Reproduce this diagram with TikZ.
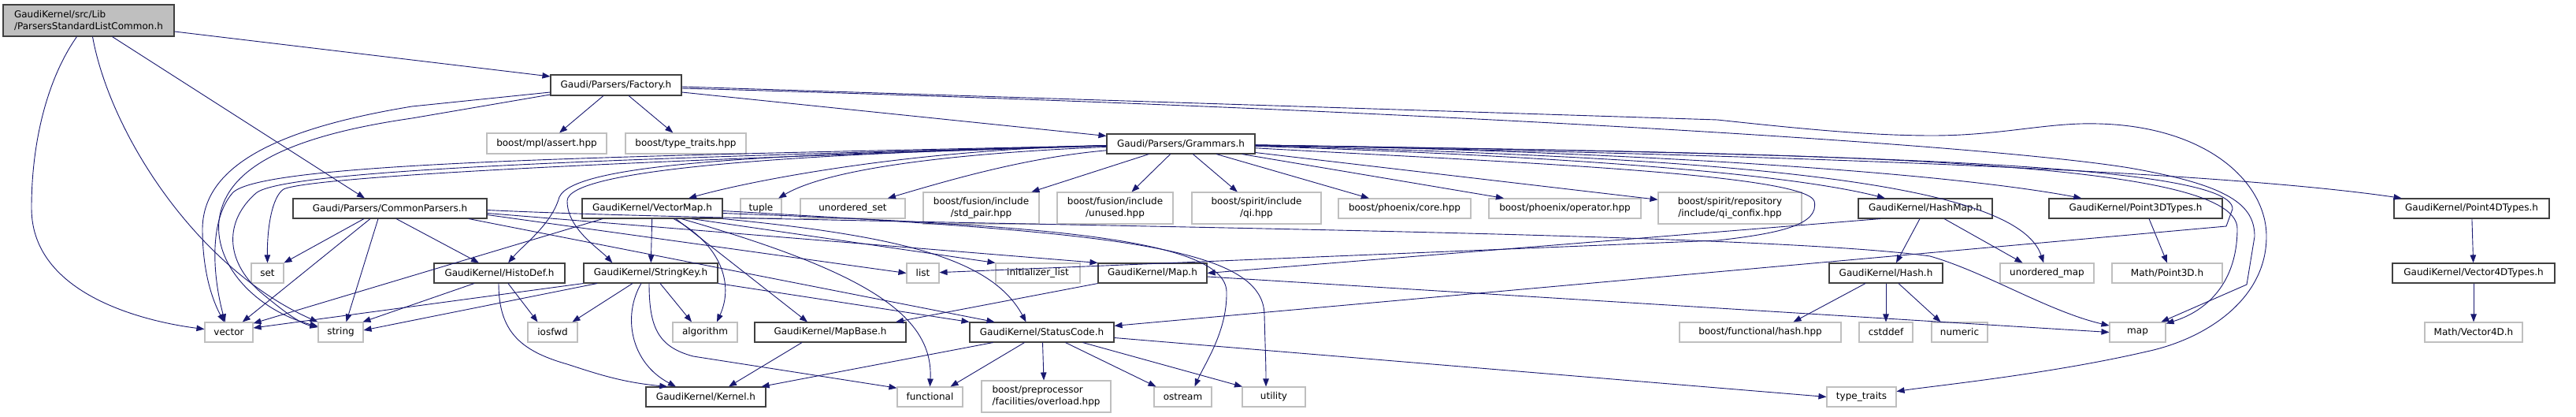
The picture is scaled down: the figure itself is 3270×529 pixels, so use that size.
\documentclass[tikz,border=0pt]{standalone}
\usepackage{fontspec}
\setmainfont{DejaVu Sans}
\usetikzlibrary{arrows.meta}
\definecolor{edgec}{HTML}{191970}
\definecolor{gkb}{HTML}{404040}
\definecolor{extb}{HTML}{BFBFBF}
\definecolor{rootf}{HTML}{BFBFBF}
\tikzset{
 nb/.style={draw=gkb, line width=1.1pt, fill=white, rectangle, inner sep=0pt, font=\fontsize{12}{15}\selectfont, align=center},
 xb/.style={nb, draw=extb},
 edg/.style={draw=edgec, line width=0.9pt, -{Triangle[length=10pt,width=7.5pt]}},
}
\begin{document}
\begin{tikzpicture}[x=1pt,y=-1pt]
\useasboundingbox (0,0) rectangle (3270,529);
% nodes
\node[nb, fill=rootf, align=left, minimum width=217pt, minimum height=40pt] (root) at (112.5,26) {GaudiKernel/src/Lib\\/ParsersStandardListCommon.h};
\node[nb, minimum width=166pt, minimum height=26pt] (factory) at (782,108) {Gaudi/Parsers/Factory.h};
\node[xb, minimum width=152pt, minimum height=26pt] (assert) at (694,182) {boost/mpl/assert.hpp};
\node[xb, minimum width=153pt, minimum height=26pt] (tthpp) at (870.5,182) {boost/type\_traits.hpp};
\node[nb, minimum width=188pt, minimum height=25pt] (grammars) at (1499,182.5) {Gaudi/Parsers/Grammars.h};
\node[nb, minimum width=246pt, minimum height=25pt] (common) at (495,264.5) {Gaudi/Parsers/CommonParsers.h};
\node[nb, minimum width=178pt, minimum height=25pt] (vectormap) at (828,264.5) {GaudiKernel/VectorMap.h};
\node[xb, minimum width=52pt, minimum height=25pt] (tuple) at (966,264.5) {tuple};
\node[xb, minimum width=133pt, minimum height=25pt] (uset) at (1082.5,264.5) {unordered\_set};
\node[xb, minimum width=147pt, minimum height=40pt] (stdpair) at (1245.5,264) {boost/fusion/include\\/std\_pair.hpp};
\node[xb, minimum width=147pt, minimum height=40pt] (unused) at (1415.5,264) {boost/fusion/include\\/unused.hpp};
\node[xb, minimum width=164pt, minimum height=40pt] (qi) at (1595,264) {boost/spirit/include\\/qi.hpp};
\node[xb, minimum width=168pt, minimum height=25pt] (pcore) at (1783,264.5) {boost/phoenix/core.hpp};
\node[xb, minimum width=193pt, minimum height=25pt] (pop) at (1986.5,264.5) {boost/phoenix/operator.hpp};
\node[xb, minimum width=182pt, minimum height=40pt] (confix) at (2196,264) {boost/spirit/repository\\/include/qi\_confix.hpp};
\node[nb, minimum width=170pt, minimum height=25pt] (hashmap) at (2444,264.5) {GaudiKernel/HashMap.h};
\node[nb, minimum width=220pt, minimum height=25pt] (p3d) at (2711,264.5) {GaudiKernel/Point3DTypes.h};
\node[nb, minimum width=197pt, minimum height=25pt] (p4d) at (3137.5,264.5) {GaudiKernel/Point4DTypes.h};
\node[xb, minimum width=41pt, minimum height=25pt] (set) at (339.5,346.5) {set};
\node[nb, minimum width=166pt, minimum height=25pt] (histodef) at (634,346.5) {GaudiKernel/HistoDef.h};
\node[nb, minimum width=170pt, minimum height=25pt] (stringkey) at (826,346.5) {GaudiKernel/StringKey.h};
\node[xb, minimum width=41pt, minimum height=25pt] (list) at (1171.5,346.5) {list};
\node[xb, minimum width=107pt, minimum height=25pt] (initlist) at (1317.5,346.5) {initializer\_list};
\node[nb, minimum width=138pt, minimum height=25pt] (maph) at (1463,346.5) {GaudiKernel/Map.h};
\node[xb, minimum width=119pt, minimum height=25pt] (umap) at (2598.5,346.5) {unordered\_map};
\node[nb, minimum width=144pt, minimum height=25pt] (hash) at (2394,346.5) {GaudiKernel/Hash.h};
\node[xb, minimum width=140pt, minimum height=25pt] (mp3d) at (2751,346.5) {Math/Point3D.h};
\node[nb, minimum width=206pt, minimum height=25pt] (v4dt) at (3140,346.5) {GaudiKernel/Vector4DTypes.h};
\node[xb, minimum width=61pt, minimum height=25pt] (vector) at (290.5,421.5) {vector};
\node[xb, minimum width=57pt, minimum height=25pt] (string) at (432.5,421.5) {string};
\node[xb, minimum width=63pt, minimum height=25pt] (iosfwd) at (701.5,421.5) {iosfwd};
\node[xb, minimum width=82pt, minimum height=25pt] (algorithm) at (895,421.5) {algorithm};
\node[nb, minimum width=192pt, minimum height=25pt] (mapbase) at (1054,421.5) {GaudiKernel/MapBase.h};
\node[nb, minimum width=183pt, minimum height=25pt] (statuscode) at (1322.5,421.5) {GaudiKernel/StatusCode.h};
\node[xb, minimum width=205pt, minimum height=25pt] (fhash) at (2234.5,421.5) {boost/functional/hash.hpp};
\node[xb, minimum width=68pt, minimum height=25pt] (cstddef) at (2394,421.5) {cstddef};
\node[xb, minimum width=71pt, minimum height=25pt] (numeric) at (2487.5,421.5) {numeric};
\node[xb, minimum width=71pt, minimum height=25pt] (map) at (2713.5,421.5) {map};
\node[xb, minimum width=124pt, minimum height=25pt] (mv4d) at (3140,421.5) {Math/Vector4D.h};
\node[nb, minimum width=152pt, minimum height=25pt] (kernel) at (896,503.5) {GaudiKernel/Kernel.h};
\node[xb, minimum width=83pt, minimum height=25pt] (functional) at (1180.5,503.5) {functional};
\node[xb, align=left, minimum width=164pt, minimum height=40pt] (overload) at (1328,503) {boost/preprocessor\\/facilities/overload.hpp};
\node[xb, minimum width=73pt, minimum height=25pt] (ostream) at (1501.5,503.5) {ostream};
\node[xb, minimum width=80pt, minimum height=25pt] (utility) at (1617,503.5) {utility};
\node[xb, minimum width=88pt, minimum height=25pt] (typetraits) at (2363,503.5) {type\_traits};
% root edges
\draw[edg] ([xshift=-15pt]root.south) .. controls (60,100) and (40,180) .. (40,264) .. controls (40,380) and (200,410) .. (vector);
\draw[edg] ([xshift=5pt]root.south) .. controls (140,170) and (250,340) .. (string);
\draw[edg] ([xshift=30pt]root.south) -- ([xshift=-32pt]common.north);
\draw[edg] ([yshift=-14pt]root.east) -- ([yshift=11pt]factory.west);
% factory edges
\draw[edg] (factory) -- (assert);
\draw[edg] (factory) -- (tthpp);
\draw[edg] ([yshift=-9pt]factory.east) -- ([yshift=10pt]grammars.west);
\draw[edg] ([yshift=-9pt]factory.west) -- (523,135) .. controls (340,165) and (258,215) .. (257,290) .. controls (257,350) and (272,385) .. (vector.115);
\draw[edg] ([yshift=-12pt]factory.west) -- (523,150) .. controls (350,175) and (285,220) .. (278,280) .. controls (272,340) and (330,395) .. (string);
\draw[edg] ([yshift=-2pt]factory.east) -- (2180,152) .. controls (2300,165) and (2380,172) .. (2453,172) .. controls (2540,172) and (2600,155) .. (2663,157) .. controls (2800,160) and (2877,230) .. (2877,300) .. controls (2877,380) and (2800,430) .. (2725,446) .. controls (2600,475) and (2450,490) .. (typetraits);
\draw[edg] ([yshift=-4pt]factory.east) .. controls (1700,135) and (2500,180) .. (2703,213) .. controls (2830,235) and (2862,260) .. (2862,300) -- (2852,361) -- (map);
% grammars edges
\draw[edg] (grammars) .. controls (1200,195) and (1050,215) .. (tuple);
\draw[edg] (grammars) .. controls (1300,200) and (1200,230) .. (uset);
\draw[edg] (grammars) .. controls (1150,190) and (950,230) .. (vectormap);
\draw[edg] (grammars) -- (stdpair);
\draw[edg] (grammars) -- (unused);
\draw[edg] (grammars) -- (qi);
\draw[edg] (grammars) -- (pcore);
\draw[edg] (grammars) -- (pop);
\draw[edg] (grammars) -- (confix);
\draw[edg] (grammars) .. controls (1900,195) and (2250,215) .. (hashmap);
\draw[edg] (grammars) .. controls (2000,190) and (2450,215) .. (p3d);
\draw[edg] (grammars) .. controls (2200,195) and (2800,215) .. (p4d);
\draw[edg] (grammars) .. controls (2200,200) and (2560,230) .. (umap);
\draw[edg] (grammars) .. controls (2300,195) and (2840,200) .. (2840,290) .. controls (2840,360) and (2800,395) .. (map);
\draw[edg] (grammars) .. controls (2300,195) and (2834,205) .. (2834,265) -- (2826,287) -- (statuscode);
\draw[edg] (grammars) .. controls (1900,205) and (2290,220) .. (2303,255) .. controls (2310,285) and (2260,296) .. (2180,305) -- (list);
\draw[edg] (grammars) .. controls (1000,195) and (730,205) .. (710,250) .. controls (700,285) and (665,310) .. (histodef);
\draw[edg] (grammars) .. controls (1000,195) and (720,215) .. (720,255) .. controls (720,290) and (760,315) .. (stringkey.165);
\draw[edg] (grammars) .. controls (900,200) and (400,222) .. (360,240) .. controls (345,250) and (339,290) .. (set.north);
\draw[edg] (grammars) .. controls (800,198) and (330,205) .. (295,245) .. controls (265,280) and (270,350) .. (vector.110);
\draw[edg] (grammars) .. controls (800,200) and (360,215) .. (325,245) .. controls (285,280) and (285,330) .. (330,370) .. controls (360,395) and (380,410) .. (string);
% common parsers edges
\draw[edg] ([xshift=-33pt]common.south) -- (set.north east);
\draw[edg] ([xshift=-25pt]common.south) -- (vector.37);
\draw[edg] ([xshift=-15pt]common.south) -- ([xshift=7pt]string.north);
\draw[edg] ([xshift=8pt]common.south) -- ([xshift=-26pt]histodef.north);
\draw[edg] ([yshift=-8pt]common.east) -- (list.west);
\draw[edg] ([yshift=-6pt]common.east) -- (maph.north west);
\draw[edg] ([xshift=100pt]common.south) -- ([xshift=-60pt]statuscode.north);
\draw[edg] ([yshift=-2pt]common.east) .. controls (1000,285) and (2200,290) .. (2450,325) .. controls (2520,345) and (2600,395) .. (map);
% vectormap edges
\draw[edg] ([xshift=-63pt]vectormap.south) -- (vector.20);
\draw[edg] (vectormap) -- (stringkey);
\draw[edg] ([xshift=27pt]vectormap.south) .. controls (915,310) and (932,360) .. ([xshift=15pt]algorithm.north);
\draw[edg] ([xshift=30pt]vectormap.south) -- ([xshift=-29pt]mapbase.north);
\draw[edg] ([xshift=50pt]vectormap.south) -- (initlist.north west);
\draw[edg] ([xshift=37pt]vectormap.south) .. controls (1100,345) and (1185,400) .. (functional.north);
\draw[edg] (vectormap.south east) .. controls (1150,300) and (1260,330) .. ([xshift=-20pt]statuscode.north);
\draw[edg] ([yshift=-6pt]vectormap.east) .. controls (1300,285) and (1555,300) .. (1557,370) .. controls (1558,420) and (1530,460) .. ([xshift=15pt]ostream.north);
\draw[edg] ([yshift=-3pt]vectormap.east) .. controls (1400,295) and (1605,310) .. (1605,400) .. controls (1606,440) and (1607,460) .. ([xshift=-10pt]utility.north);
% histodef edges
\draw[edg] ([xshift=-32pt]histodef.south) -- (string.25);
\draw[edg] ([xshift=11pt]histodef.south) -- ([xshift=-19pt]iosfwd.north);
\draw[edg] ([xshift=-1pt]histodef.south) .. controls (633,420) and (660,445) .. (720,462) .. controls (760,475) and (790,485) .. (kernel.165);
% stringkey edges
\draw[edg] (stringkey.south west) -- (vector.10);
\draw[edg] ([xshift=-68pt]stringkey.south) -- (string.5);
\draw[edg] ([xshift=-23pt]stringkey.south) -- ([xshift=25pt]iosfwd.north);
\draw[edg] ([xshift=12pt]stringkey.south) -- ([xshift=-17pt]algorithm.north);
\draw[edg] ([xshift=-12pt]stringkey.south) .. controls (790,400) and (800,460) .. ([xshift=-38pt]kernel.north);
\draw[edg] ([xshift=-2pt]stringkey.south) .. controls (824,415) and (835,440) .. (880,452) -- (functional.165);
\draw[edg] (stringkey.south east) -- (statuscode.north west);
% others
\draw[edg] ([xshift=-36pt]mapbase.south) -- ([xshift=29pt]kernel.north);
\draw[edg] (maph.south west) -- ([xshift=83pt]mapbase.north);
\draw[edg] ([yshift=-4.5pt]maph.east) -- (map.west);
\draw[edg] ([xshift=-62pt]statuscode.south) -- ([xshift=-6pt]kernel.north east);
\draw[edg] ([xshift=-22pt]statuscode.south) -- ([xshift=26pt]functional.north);
\draw[edg] ([xshift=1pt]statuscode.south) -- ([xshift=-3pt]overload.north);
\draw[edg] ([xshift=30pt]statuscode.south) -- ([xshift=-34pt]ostream.north);
\draw[edg] ([xshift=52pt]statuscode.south) -- ([xshift=-40pt]utility.north);
\draw[edg] ([yshift=-7pt]statuscode.east) -- (typetraits.west);
\draw[edg] ([xshift=-7pt]hashmap.south) -- ([xshift=13pt]hash.north);
\draw[edg] ([xshift=24pt]hashmap.south) -- ([xshift=-31pt]umap.north);
\draw[edg] ([xshift=-57pt]hashmap.south) -- (maph.east);
\draw[edg] ([xshift=-26pt]hash.south) -- ([xshift=42pt]fhash.north);
\draw[edg] (hash) -- (cstddef);
\draw[edg] ([xshift=16pt]hash.south) -- ([xshift=-24pt]numeric.north);
\draw[edg] ([xshift=17pt]p3d.south) -- (mp3d.north);
\draw[edg] (p4d) -- (v4dt);
\draw[edg] (v4dt) -- (mv4d);
\end{tikzpicture}
\end{document}
